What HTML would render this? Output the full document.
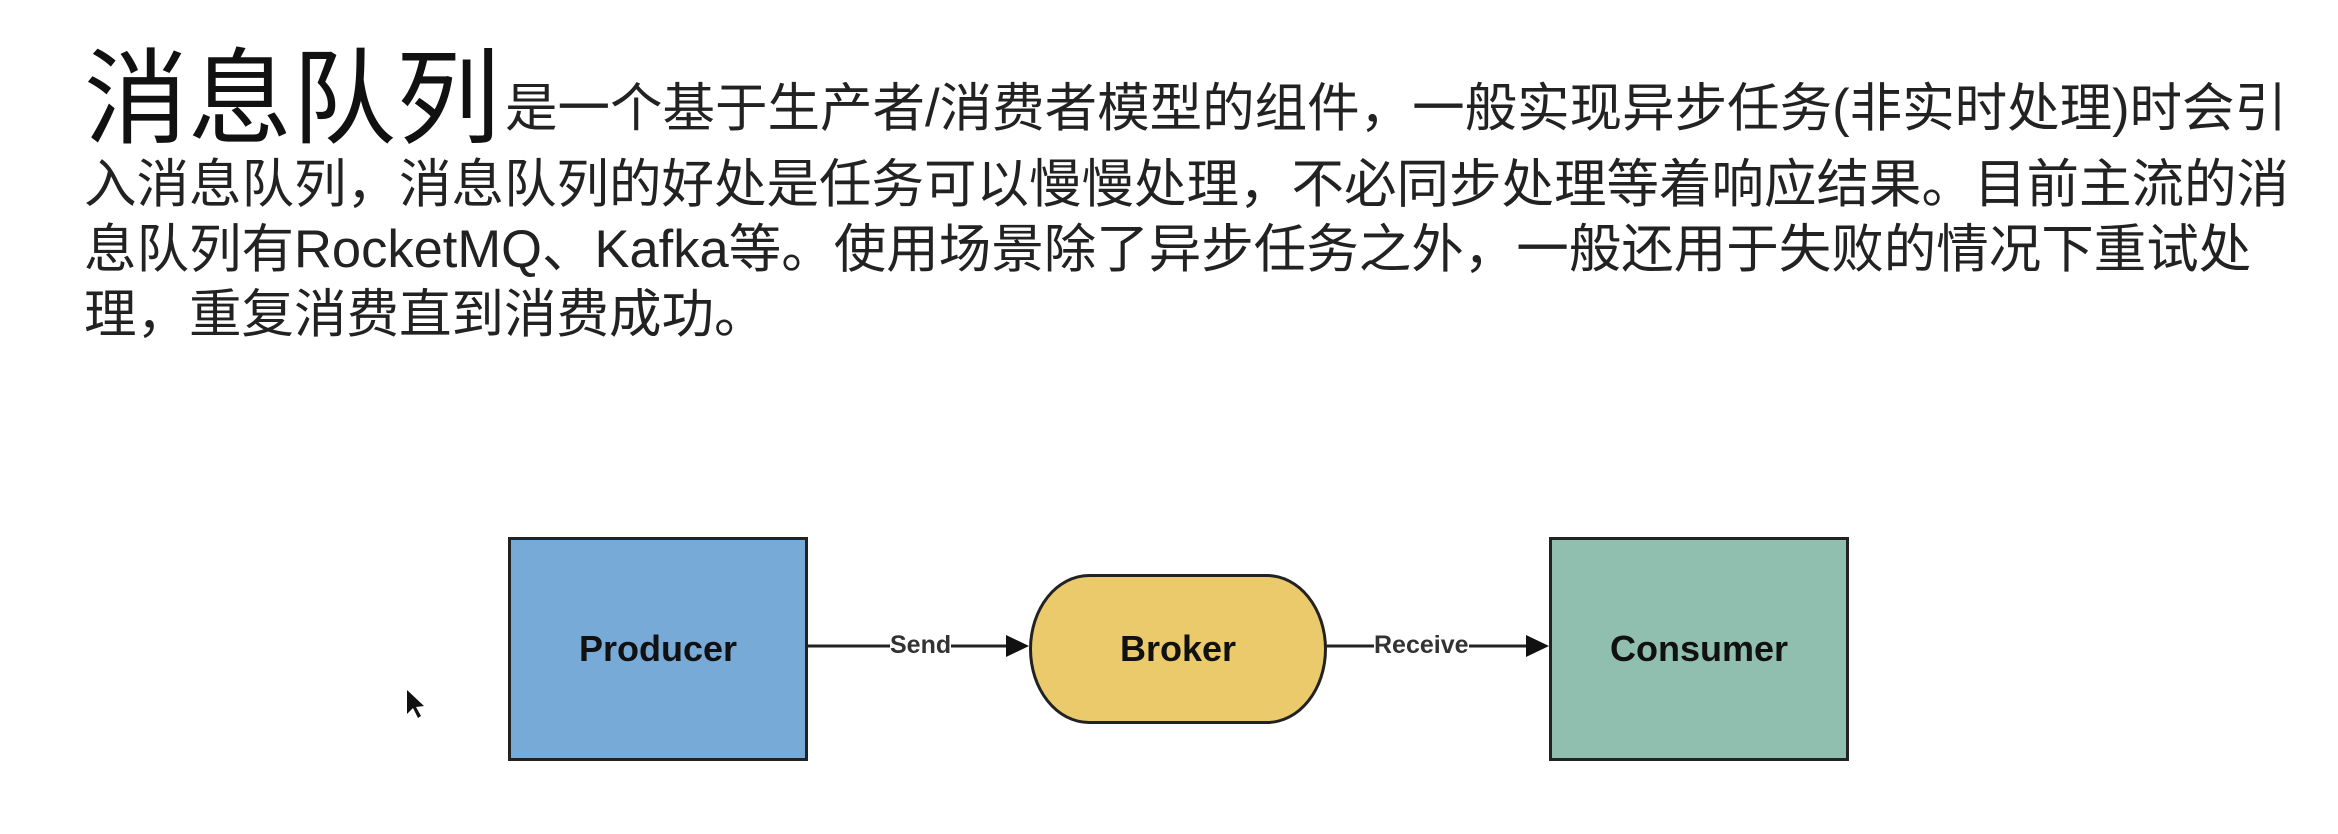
<!DOCTYPE html>
<html><head><meta charset="utf-8"><style>
body{margin:0;width:2338px;height:834px;background:#fff;position:relative;overflow:hidden;font-family:"Liberation Sans","Noto Sans CJK SC",sans-serif;}
.l{position:absolute;white-space:nowrap;color:#222;font-size:52.5px;font-family:"Liberation Sans","Noto Sans CJK SC",sans-serif;}
.t{position:absolute;left:84px;top:14px;font-size:104px;color:#111;white-space:nowrap;font-family:"Liberation Sans","Noto Sans CJK SC",sans-serif;}
.box{position:absolute;box-sizing:border-box;border:3px solid #222;display:flex;align-items:center;justify-content:center;font-weight:bold;font-size:36px;color:#111;}
.lab{position:absolute;font-size:25px;font-weight:bold;color:#333;background:#fff;}
</style></head><body>
<div class="t">消息队列</div>
<div class="l" style="left:505px;top:66px;">是一个基于生产者/消费者模型的组件，一般实现异步任务(非实时处理)时会引</div>
<div class="l" style="left:84px;top:142px;">入消息队列，消息队列的好处是任务可以慢慢处理，不必同步处理等着响应结果。目前主流的消</div>
<div class="l" style="left:84px;top:207px;">息队列有RocketMQ、Kafka等。使用场景除了异步任务之外，一般还用于失败的情况下重试处</div>
<div class="l" style="left:84px;top:272px;">理，重复消费直到消费成功。</div>

<svg style="position:absolute;left:0;top:0" width="2338" height="834">
<line x1="807" y1="646" x2="1010" y2="646" stroke="#222" stroke-width="3"/>
<polygon points="1029,646 1006,635 1006,657" fill="#111"/>
<line x1="1326" y1="646" x2="1530" y2="646" stroke="#222" stroke-width="3"/>
<polygon points="1549,646 1526,635 1526,657" fill="#111"/>
<polygon points="407,690 407,714 413,708 418,718 421,716 416,707 424,706" fill="#111"/>
</svg>
<div class="lab" style="left:890px;top:631px;">Send</div>
<div class="lab" style="left:1374px;top:631px;">Receive</div>

<div class="box" style="left:508px;top:537px;width:300px;height:224px;background:#78aad8;">Producer</div>
<div class="box" style="left:1029px;top:574px;width:298px;height:150px;background:#ebca6c;border-radius:60px/75px;">Broker</div>
<div class="box" style="left:1549px;top:537px;width:300px;height:224px;background:#90bfb0;">Consumer</div>
</body></html>
